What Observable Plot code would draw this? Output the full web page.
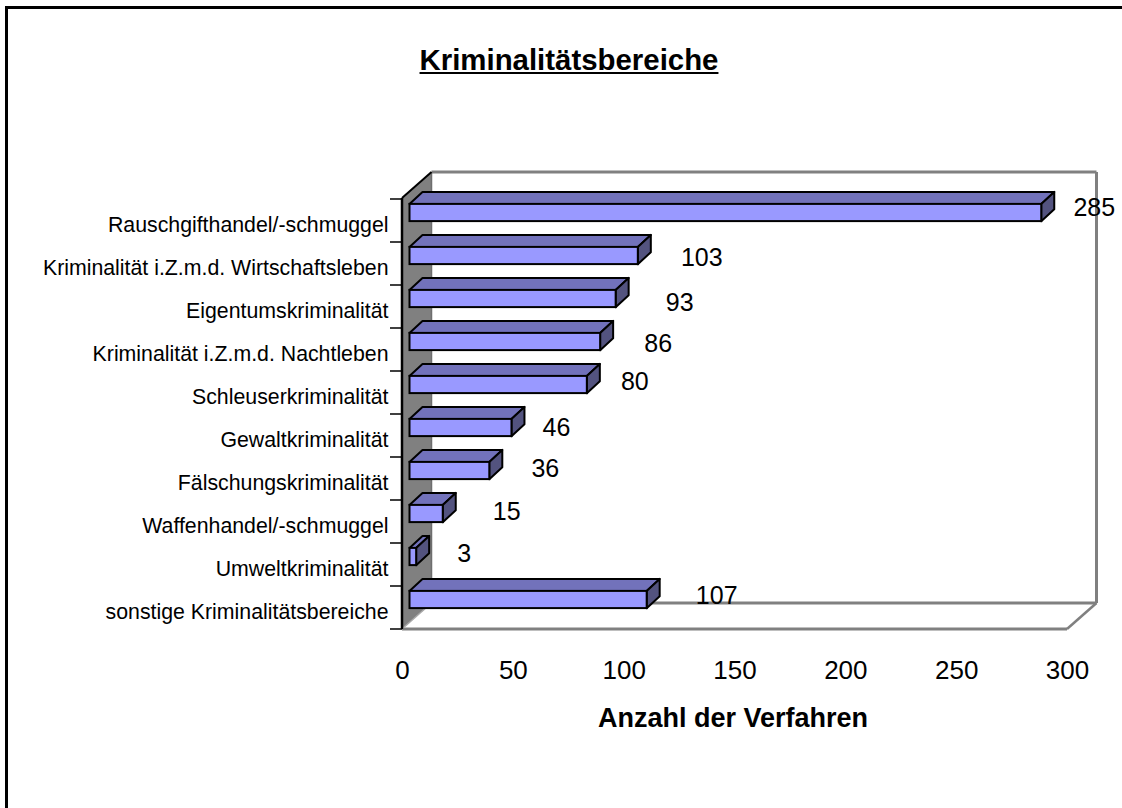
<!DOCTYPE html>
<html lang="de">
<head>
<meta charset="utf-8">
<script src="https://cdn.jsdelivr.net/npm/d3@7"></script>
<script src="https://cdn.jsdelivr.net/npm/@observablehq/plot@0.6"></script>
<style>
  html, body { margin: 0; padding: 0; background: #fff; }
  #page { position: relative; width: 1122px; height: 808px; overflow: hidden; font-family: "Liberation Sans", Arial, sans-serif; }
  #edgeTop { position: absolute; left: 5px; right: 0; top: 6px; height: 3px; background: #000; }
  #edgeLeft { position: absolute; left: 5px; top: 6px; bottom: 0; width: 3px; background: #000; }
  #title { position: absolute; left: 0; width: 1138px; top: 44px; margin: 0; text-align: center; font-size: 29.4px; font-weight: bold; text-decoration: underline; color: #000; line-height: 32px; }
  #chart { position: absolute; left: 0; top: 0; }
  #chart svg { display: block; }
</style>
</head>
<body>
<div id="page">
  <div id="edgeTop"></div>
  <div id="edgeLeft"></div>
  <div id="chart"></div>
  <h1 id="title">Kriminalitätsbereiche</h1>
</div>
<script>
const categories = [
  "Rauschgifthandel/-schmuggel",
  "Kriminalität i.Z.m.d. Wirtschaftsleben",
  "Eigentumskriminalität",
  "Kriminalität i.Z.m.d. Nachtleben",
  "Schleuserkriminalität",
  "Gewaltkriminalität",
  "Fälschungskriminalität",
  "Waffenhandel/-schmuggel",
  "Umweltkriminalität",
  "sonstige Kriminalitätsbereiche"
];
const counts = [285, 103, 93, 86, 80, 46, 36, 15, 3, 107];
const xTicks = [0, 50, 100, 150, 200, 250, 300];
const xTitle = "Anzahl der Verfahren";
const rows = categories.map((category, i) => ({category, count: counts[i]}));

// Presentation: the reference's hand-placed data labels, and the fake-3D box
const labelShift = [[60,-13],[71,-6],[71,-4],[65,-6],[55,-11],[52,-8],[63,-10],[71,-10],[55,-11],[77,-12]];
const wallDepth = {x: 29.5, y: 26};
const barDepth = {x: 13, y: 12};
const barOffset = {x: 7.5, y: -8};
const barInset = 12.9;
const barStroke = 2;
const ink = "#000", wallGrey = "#808080";
const M = {top: 198, right: 55, bottom: 179, left: 402};

const polygon = (g, pts, fill, stroke, sw) =>
  g.append("polygon").attr("points", pts.map(p => p.join(",")).join(" "))
    .attr("fill", fill).attr("stroke", stroke).attr("stroke-width", sw).attr("stroke-linejoin", "round");
const seg = (g, a, b, stroke, sw) =>
  g.append("line").attr("x1", a[0]).attr("y1", a[1]).attr("x2", b[0]).attr("y2", b[1])
    .attr("stroke", stroke).attr("stroke-width", sw);

// Box: back wall, floor, grey side wall and ticks, all positioned from the scales
function boxMark(index, {x, y}, values, {height, marginTop, marginBottom}) {
  const g = d3.create("svg:g");
  const x0 = x(0), x1 = x(300);
  const yTop = marginTop, yBot = height - marginBottom;
  const d = wallDepth;
  seg(g, [x0 + d.x, yTop - d.y], [x1 + d.x, yTop - d.y], wallGrey, 3);
  seg(g, [x1 + d.x, yTop - d.y], [x1 + d.x, yBot - d.y], wallGrey, 3);
  seg(g, [x0 + d.x, yBot - d.y], [x1 + d.x, yBot - d.y], wallGrey, 3);
  seg(g, [x1 + d.x, yBot - d.y], [x1, yBot], wallGrey, 2.5);
  seg(g, [x0, yBot], [x1, yBot], wallGrey, 3);
  polygon(g, [[x0, yTop], [x0 + d.x, yTop - d.y], [x0 + d.x, yBot - d.y], [x0, yBot]], wallGrey, "none", 0);
  seg(g, [x0 + d.x, yTop - d.y], [x0 + d.x, yBot - d.y], "#6e6e6e", 1.5);
  seg(g, [x0, yBot], [x0 + d.x, yBot - d.y], "#a8a8a8", 1.5);
  seg(g, [x0, yTop], [x0, yBot], ink, 2.5);
  seg(g, [x0, yTop], [x0 + d.x, yTop - d.y], ink, 2);
  categories.forEach(c => seg(g, [x0 - 12, y(c)], [x0, y(c)], ink, 1.5));
  seg(g, [x0 - 12, yBot], [x0, yBot], ink, 1.5);
  return g.node();
}

// Top and side faces of each bar, derived from the bar's scaled end
function depthFaces(index, {x, y}, values, {height, marginTop, marginBottom}) {
  const g = d3.create("svg:g");
  const step = (height - marginTop - marginBottom) / categories.length;
  for (const i of index) {
    const l = x(0) + barOffset.x, r = x(rows[i].count) + barOffset.x;
    const t = y(rows[i].category) + barInset + barOffset.y, b = t + step - 2 * barInset;
    const dx = barDepth.x, dy = barDepth.y;
    polygon(g, [[l, t], [r, t], [r + dx, t - dy], [l + dx, t - dy]], "#7272BB", ink, barStroke);
    polygon(g, [[r, t], [r + dx, t - dy], [r + dx, b - dy], [r, b]], "#53537F", ink, barStroke);
  }
  return g.node();
}

const fig = Plot.plot({
  width: 1122,
  height: 808,
  marginTop: M.top,
  marginRight: M.right,
  marginBottom: M.bottom,
  marginLeft: M.left,
  style: {background: "transparent", fontFamily: "'Liberation Sans', Arial, sans-serif", color: "#000", overflow: "visible"},
  x: {domain: [0, 300]},
  y: {domain: categories, padding: 0},
  marks: [
    boxMark,
    Plot.axisY({
      anchor: "left", tickSize: 0, tickPadding: 14, label: null, fontSize: 21.3, dy: 4
    }),
    Plot.axisX({
      anchor: "bottom", ticks: xTicks, tickSize: 0, tickPadding: 31, fontSize: 26, label: null
    }),
    Plot.text([xTitle], {
      text: d => d, frameAnchor: "bottom", dx: -2, dy: 89, lineAnchor: "middle",
      fontSize: 27, fontWeight: "bold", fill: ink
    }),
    Plot.barX(rows, {x: "count", y: "category", insetTop: barInset, insetBottom: barInset, render: depthFaces}),
    Plot.barX(rows, {
      x: "count", y: "category", insetTop: barInset, insetBottom: barInset,
      dx: barOffset.x, dy: barOffset.y, fill: "#9999FF", stroke: ink, strokeWidth: barStroke
    }),
    ...rows.map((row, i) => Plot.text([row], {
      x: "count", y: "category", text: d => String(d.count),
      dx: labelShift[i][0], dy: labelShift[i][1], fontSize: 25, fill: ink, textAnchor: "middle"
    }))
  ]
});
document.getElementById("chart").appendChild(fig);
</script>
</body>
</html>
